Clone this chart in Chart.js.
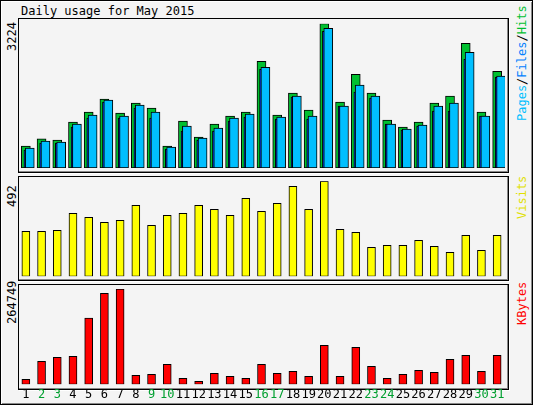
<!DOCTYPE html>
<html><head><meta charset="utf-8">
<script src="https://cdn.jsdelivr.net/npm/chart.js@4"></script>
<style>
body{margin:0;background:#fff}
#wrap{position:relative;width:533px;height:405px;background:#f4f4f4;box-sizing:border-box;border:1px solid #000;box-shadow:inset 1px 1px 0 #fff, inset -1px -1px 0 #888;font-family:"DejaVu Sans Mono",monospace;font-size:12px}
.frame{position:absolute;border:1px solid #000;box-shadow:inset -1px -1px 0 #888, 1px 1px 0 #fff;box-sizing:border-box}
canvas{position:absolute;left:0;top:0}
.rot{position:absolute;transform-origin:0 0;transform:rotate(-90deg);white-space:nowrap}
</style></head><body>
<div id="wrap">
<div style="position:absolute;left:20px;top:3px">Daily usage for May 2015</div>
<div class="frame" style="left:17px;top:17px;width:491px;height:155px"></div>
<div class="frame" style="left:17px;top:175px;width:491px;height:105px"></div>
<div class="frame" style="left:17px;top:283px;width:491px;height:106px"></div>
<div class="rot" style="left:4px;top:50px">3224</div>
<div class="rot" style="left:4px;top:206px">492</div>
<div class="rot" style="left:4px;top:323px">264749</div>
<div class="rot" style="left:514px;top:120px"><span style="color:#00bfff">Pages</span>/<span style="color:#0080ff">Files</span>/<span style="color:#00c030">Hits</span></div>
<div class="rot" style="left:514px;top:218px;color:#e0e000">Visits</div>
<div class="rot" style="left:514px;top:324px;color:#ff0000">KBytes</div>
<canvas id="c1" width="533" height="405"></canvas>
<canvas id="c2" width="533" height="405"></canvas>
<canvas id="c3" width="533" height="405"></canvas>
</div>
<script>
const days=[1,2,3,4,5,6,7,8,9,10,11,12,13,14,15,16,17,18,19,20,21,22,23,24,25,26,27,28,29,30,31];
const weekend=[2,3,9,10,16,17,23,24,30,31];
const hits=[490,654,624,1025,1248,1538,1226,1449,1337,490,1048,691,981,1159,1248,2385,1181,1672,1293,3224,1471,2095,1672,1070,914,1025,1449,1605,2786,1248,2162];
const files=[446,602,580,981,1181,1516,1159,1404,1248,468,936,669,892,1115,1204,2251,1137,1605,1159,3121,1382,1850,1605,981,869,958,1382,1449,2586,1159,2051];
const pages=[401,557,557,914,1115,1471,1115,1337,1115,424,825,624,825,1048,1137,2207,1092,1583,1092,3054,1382,1694,1560,981,847,936,1271,1271,2430,1159,2028];
const visits=[233,233,238,326,306,280,290,368,264,316,326,368,347,316,404,337,378,466,347,492,243,228,150,161,161,186,155,124,212,135,212];
const kbytes=[13886,63873,74982,77759,184214,252716,264749,24994,27771,55542,16663,8331,30548,22217,16663,55542,30548,36102,22217,108307,22217,102753,49988,16663,27771,38880,33325,69428,80536,36102,80536];
const maxHits=3224, maxVisits=492, maxKB=264749;

function ds(vals,off,color,w){
  return {data:days.map((d,i)=>({x:d+off,y:vals[i]})),backgroundColor:color,borderColor:'#000',borderWidth:1,borderSkipped:false,barThickness:w,grouped:false};
}
function mk(id,datasets,max,top,bottom,extra){
  return new Chart(document.getElementById(id),{type:'bar',data:{datasets},
    options:{responsive:false,animation:false,events:[],
      layout:{padding:{left:17,right:29,top:top,bottom:405-bottom}},
      plugins:{legend:{display:false},tooltip:{enabled:false}},
      scales:{x:{type:'linear',display:false,offset:false,min:0.5,max:31.5},y:{display:false,min:0,max:max}}},
    plugins:extra||[]});
}
mk('c1',[ds(files,0.25,'#00bfff',9),ds(pages,0.1,'#0040ff',7),ds(hits,0,'#00c030',9)],maxHits,22.7,167);
mk('c2',[ds(visits,0,'#ffff00',8)],maxVisits,180.3,275.3);
const lbl={id:'lbl',afterDraw(c){const x=c.scales.x,ctx=c.ctx;ctx.save();ctx.font='12px "DejaVu Sans Mono"';ctx.textAlign='center';ctx.textBaseline='middle';
  days.forEach(d=>{ctx.fillStyle=weekend.includes(d)?'#00a030':'#000';ctx.fillText(String(d),x.getPixelForValue(d),394);});ctx.restore();}};
mk('c3',[ds(kbytes,0,'#ff0000',8)],maxKB,288,383.3,[lbl]);
</script>
</body></html>
